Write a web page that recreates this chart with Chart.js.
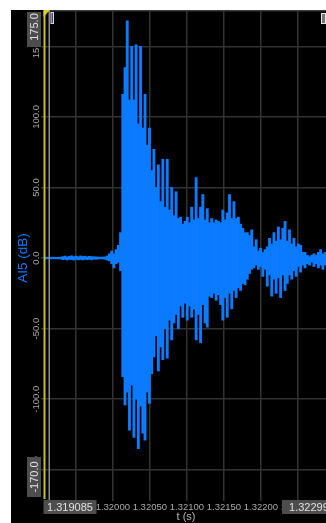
<!DOCTYPE html>
<html>
<head>
<meta charset="utf-8">
<script src="https://cdn.jsdelivr.net/npm/chart.js@4.4.1/dist/chart.umd.min.js"></script>
<style>
  html, body { margin: 0; padding: 0; background: #fff; overflow: hidden; width: 326px; height: 523px; }
  #panel { position: absolute; left: 11px; top: 10px; width: 315px; height: 513px; background: #000; overflow: hidden; }
  #chart { display: block; }
</style>
</head>
<body>
<div id="panel"><canvas id="chart" width="340" height="513"></canvas></div>
<script>
// Axis range and ticks
const xMin = 1.319085;
const xMax = 1.322999;
const xTicks = [1.3195, 1.3200, 1.3205, 1.3210, 1.3215, 1.3220, 1.3225];
const yMin = -170;
const yMax = 175;
const yTicks = [-150, -100, -50, 0, 50, 100, 150];

// Sample grid (one column every 30 µs) and per-column max / min of AI5 (dB)
const sampleStart = 1.319085;
const sampleStep = 0.00003;
const highValues = [
  0.6, 0.6, 0.5, 0.6, 0.6, 0.5, 0.6, 0.6, 1.0, 1.4,
  0.8, 1.2, 1.6, 1.0, 1.3, 0.9, 1.5, 1.1, 1.3, 0.8,
  1.2, 1.0, 0.9, 0.8, 0.7, 0.6, 0.7, 0.8, 1.5,
  3, 5, 3, 6, 9, 18, 116, 135, 168, 112,
  150, 112, 151, 95, 150, 92, 116, 80, 92, 62,
  77, 50, 66, 40, 70, 36, 70, 34, 50, 30,
  47, 28, 29, 24, 26, 29, 25, 36, 27, 57,
  28, 36, 45, 27, 35, 25, 28, 25, 27, 26,
  25, 34, 27, 32, 45, 28, 40, 28, 29, 24,
  21, 18, 18, 16, 20, 8, 13, 5, 7, 4,
  6, 8, 14, 10, 18, 12, 22, 13, 21, 26,
  12, 20, 10, 14, 8, 10, 9, 4, 4, 2,
  1, 2, 3, 2, 4, 6, 3, 4, 3, 4,
  3, 3
];
const lowValues = [
  -0.6, -0.6, -0.5, -0.6, -0.5, -0.6, -0.6, -0.6, -1.2, -0.9,
  -1.4, -1.0, -1.1, -1.5, -0.9, -1.3, -1.0, -1.4, -0.9, -1.2,
  -1.0, -1.3, -0.8, -0.9, -0.7, -0.6, -0.7, -0.9, -1.5,
  -2, -4, -7, -4, -3, -9, -84, -104, -95, -122,
  -90, -127, -100, -135, -105, -124, -129, -95, -103, -82,
  -70, -55, -80, -63, -72, -50, -71, -44, -58, -46,
  -40, -50, -34, -42, -32, -44, -34, -42, -36, -58,
  -40, -60, -33, -46, -49, -27, -28, -25, -30, -26,
  -33, -44, -28, -42, -25, -36, -23, -28, -21, -23,
  -18, -19, -15, -11, -8, -7, -5, -8, -6, -13,
  -8, -20, -12, -27, -15, -25, -14, -28, -12, -23,
  -18, -12, -15, -9, -13, -6, -10, -5, -7, -4,
  -5, -3, -6, -4, -7, -5, -8, -5, -6, -4,
  -5, -4
];

const labelFont = "'Liberation Sans', Arial, sans-serif";
const signalColor = "#0b7bff";

const overlay = {
  id: "overlay",
  afterDraw(chart) {
    const { ctx, chartArea: a, scales: { y } } = chart;
    ctx.save();

    // top border of plot
    ctx.fillStyle = "#3a3a3a";
    ctx.fillRect(a.left, a.top - 1, a.right - a.left, 1.5);

    // cursor lines
    ctx.fillStyle = "#c8c024";
    ctx.fillRect(a.left - 1.5, a.top, 2, a.bottom - a.top + 1);
    ctx.fillStyle = "#8c8c8c";
    ctx.fillRect(a.left + 3.5, a.top, 1.5, a.bottom - a.top + 2);

    // cursor handles
    ctx.fillStyle = "#d8d02a";
    ctx.beginPath();
    ctx.moveTo(a.left - 1.5, a.top - 1);
    ctx.lineTo(a.left + 5, a.top - 1);
    ctx.lineTo(a.left - 1.5, a.top + 6);
    ctx.closePath();
    ctx.fill();
    ctx.fillStyle = "#dcdcdc";
    ctx.fillRect(a.left + 5.5, a.top + 1, 3.5, 12);
    ctx.fillStyle = "#3b4a7a";
    ctx.fillRect(a.left + 6.5, a.top + 2, 1.5, 10);
    ctx.fillStyle = "#e6e6e6";
    ctx.fillRect(310, a.top + 2, 5, 11);
    ctx.fillStyle = "#777";
    ctx.fillRect(311, a.top + 3, 3, 9);

    // y tick labels, rotated
    ctx.fillStyle = "#a8a8a8";
    ctx.font = "9.5px " + labelFont;
    ctx.textAlign = "center";
    ctx.textBaseline = "middle";
    yTicks.forEach(v => {
      ctx.save();
      ctx.translate(25, y.getPixelForValue(v));
      ctx.rotate(-Math.PI / 2);
      ctx.fillText(v.toFixed(1), 0, 0);
      ctx.restore();
    });

    // min / max value boxes
    ctx.font = "11px " + labelFont;
    const yBox = (text, top, h, cy) => {
      ctx.fillStyle = "#4d4d4d";
      ctx.fillRect(16, top, 14, h);
      ctx.fillStyle = "#e2e2e2";
      ctx.save();
      ctx.translate(24, cy);
      ctx.rotate(-Math.PI / 2);
      ctx.fillText(text, 0, 0);
      ctx.restore();
    };
    yBox(yMax.toFixed(1), a.top + 1, 35, a.top + 16);
    yBox(yMin.toFixed(1), a.bottom - 41, 40, a.bottom - 21);

    const xBox = (text, left, w) => {
      ctx.fillStyle = "#4d4d4d";
      ctx.fillRect(left, a.bottom + 2, w, 14);
      ctx.fillStyle = "#e2e2e2";
      ctx.fillText(text, left + w / 2, a.bottom + 9.5);
    };
    xBox(xMin.toFixed(6), a.left - 1.5, 53);
    xBox(xMax.toFixed(6), a.right - 53, 60);

    // axis titles
    ctx.fillStyle = "#b4b4b4";
    ctx.font = "11px " + labelFont;
    ctx.fillText("t (s)", (a.left + a.right) / 2 - 4, a.bottom + 19);

    ctx.fillStyle = signalColor;
    ctx.font = "13.5px " + labelFont;
    ctx.save();
    ctx.translate(12, y.getPixelForValue(0));
    ctx.rotate(-Math.PI / 2);
    ctx.fillText("AI5 (dB)", 0, 0);
    ctx.restore();

    ctx.restore();
  }
};

const columns = highValues.map((hi, i) => ({
  x: sampleStart + i * sampleStep,
  y: [lowValues[i], hi]
}));

new Chart(document.getElementById("chart"), {
  type: "bar",
  data: {
    datasets: [{
      data: columns,
      backgroundColor: signalColor,
      borderWidth: 0,
      barPercentage: 1,
      categoryPercentage: 1,
    }],
  },
  options: {
    responsive: false,
    animation: false,
    layout: { padding: { top: 1, right: 16, left: 0, bottom: 0 } },
    plugins: { legend: { display: false }, tooltip: { enabled: false } },
    scales: {
      x: {
        type: "linear",
        min: xMin,
        max: xMax,
        offset: false,
        afterBuildTicks: s => { s.ticks = xTicks.map(v => ({ value: v })); },
        afterFit: s => { s.height = 25; },
        grid: { color: "#333", lineWidth: 1.5, tickLength: 3, offset: false },
        border: { display: false },
        ticks: {
          autoSkip: false,
          maxRotation: 0,
          color: "#a8a8a8",
          padding: 1,
          font: { family: labelFont, size: 9.5 },
          callback: v => v.toFixed(5),
        },
      },
      y: {
        min: yMin,
        max: yMax,
        afterBuildTicks: s => { s.ticks = yTicks.map(v => ({ value: v })); },
        afterFit: s => { s.width = 34; },
        grid: { color: "#333", lineWidth: 1.5, tickLength: 4 },
        border: { display: false },
        ticks: { display: false },
      },
    },
  },
  plugins: [overlay],
});
</script>
</body>
</html>
